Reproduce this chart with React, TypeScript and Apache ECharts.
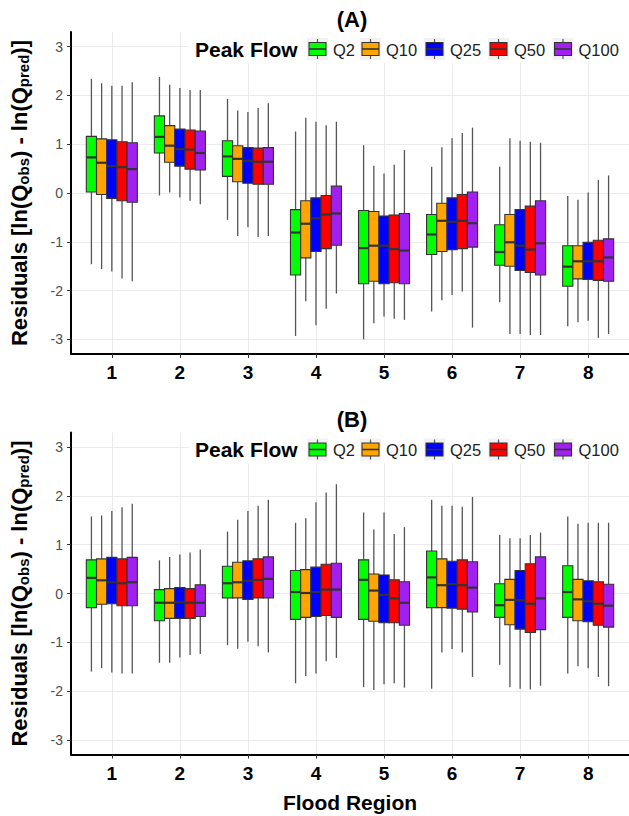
import React, { useEffect, useRef } from 'react';
import * as echarts from 'echarts';

// ---------- data ----------
const regions = [1, 2, 3, 4, 5, 6, 7, 8];
const peakFlows = ['Q2', 'Q10', 'Q25', 'Q50', 'Q100'];
const yTicks = [-3, -2, -1, 0, 1, 2, 3];

// Panel (A): per region [min, q1, median, q3, max]
const a_q2 = [
  [-1.46, 0.02, 0.73, 1.16, 2.34],
  [-0.05, 0.82, 1.15, 1.58, 2.38],
  [-0.55, 0.34, 0.75, 1.07, 1.93],
  [-2.93, -1.68, -0.81, -0.34, 1.26],
  [-3.0, -1.86, -1.13, -0.36, 0.98],
  [-2.43, -1.26, -0.85, -0.44, 0.54],
  [-2.24, -1.48, -1.21, -0.65, 0.54],
  [-2.73, -1.91, -1.51, -1.08, -0.06],
];
const a_q10 = [
  [-1.56, -0.03, 0.62, 1.11, 2.25],
  [0.01, 0.63, 0.97, 1.38, 2.22],
  [-0.88, 0.23, 0.7, 0.97, 1.69],
  [-2.22, -1.33, -0.63, -0.16, 1.54],
  [-2.67, -1.81, -1.08, -0.38, 0.56],
  [-2.2, -1.2, -0.57, -0.21, 0.94],
  [-2.89, -1.5, -1.01, -0.44, 1.12],
  [-2.65, -1.76, -1.4, -1.08, -0.14],
];
const a_q25 = [
  [-1.61, -0.11, 0.55, 1.09, 2.2],
  [-0.09, 0.55, 0.9, 1.31, 2.15],
  [-0.7, 0.2, 0.66, 0.93, 1.66],
  [-2.71, -1.2, -0.52, -0.1, 1.46],
  [-2.53, -1.86, -1.08, -0.47, 0.4],
  [-2.09, -1.16, -0.59, -0.1, 1.12],
  [-2.89, -1.59, -1.08, -0.34, 1.07],
  [-2.62, -1.77, -1.4, -1.01, 0.01],
];
const a_q50 = [
  [-1.75, -0.16, 0.53, 1.05, 2.2],
  [-0.16, 0.49, 0.89, 1.29, 2.11],
  [-0.9, 0.18, 0.64, 0.92, 1.74],
  [-2.37, -1.14, -0.44, -0.05, 1.39],
  [-2.58, -1.84, -1.15, -0.45, 0.58],
  [-2.02, -1.14, -0.57, -0.03, 1.23],
  [-2.91, -1.63, -1.16, -0.27, 1.05],
  [-2.97, -1.79, -1.4, -0.97, 0.27],
];
const a_q100 = [
  [-1.81, -0.19, 0.49, 1.03, 2.27],
  [-0.23, 0.47, 0.82, 1.27, 2.11],
  [-0.88, 0.18, 0.64, 0.93, 1.84],
  [-2.06, -1.07, -0.42, 0.14, 1.46],
  [-2.6, -1.86, -1.18, -0.42, 0.88],
  [-2.76, -1.11, -0.62, 0.02, 1.34],
  [-2.91, -1.68, -1.03, -0.16, 1.03],
  [-2.89, -1.81, -1.32, -0.94, 0.36],
];

// Panel (B)
const b_q2 = [
  [-1.6, -0.29, 0.32, 0.69, 1.58],
  [-1.42, -0.56, -0.19, 0.08, 0.68],
  [-1.06, -0.09, 0.21, 0.56, 1.27],
  [-1.84, -0.53, 0.03, 0.47, 1.45],
  [-1.92, -0.53, 0.28, 0.69, 1.66],
  [-1.95, -0.29, 0.33, 0.87, 1.92],
  [-1.46, -0.49, -0.24, 0.2, 1.2],
  [-1.64, -0.49, 0.03, 0.57, 1.58],
];
const b_q10 = [
  [-1.53, -0.22, 0.27, 0.71, 1.6],
  [-1.42, -0.51, -0.19, 0.1, 0.75],
  [-1.13, -0.09, 0.23, 0.64, 1.51],
  [-1.69, -0.49, 0.01, 0.49, 1.54],
  [-1.98, -0.57, 0.06, 0.4, 1.31],
  [-1.21, -0.29, 0.17, 0.71, 1.8],
  [-1.92, -0.64, -0.13, 0.29, 1.13],
  [-1.49, -0.56, -0.12, 0.29, 1.43],
];
const b_q25 = [
  [-1.62, -0.21, 0.23, 0.74, 1.69],
  [-1.31, -0.51, -0.18, 0.12, 0.8],
  [-0.99, -0.12, 0.26, 0.67, 1.69],
  [-1.64, -0.47, 0.03, 0.54, 1.87],
  [-1.86, -0.6, -0.03, 0.38, 1.66],
  [-1.14, -0.3, 0.19, 0.66, 1.8],
  [-1.95, -0.73, -0.14, 0.47, 1.13],
  [-1.53, -0.58, -0.16, 0.26, 1.45],
];
const b_q50 = [
  [-1.64, -0.25, 0.21, 0.71, 1.77],
  [-1.26, -0.51, -0.19, 0.1, 0.84],
  [-1.08, -0.09, 0.28, 0.71, 1.8],
  [-1.39, -0.45, 0.08, 0.6, 2.07],
  [-1.84, -0.6, -0.1, 0.28, 1.22],
  [-1.21, -0.32, 0.17, 0.69, 1.78],
  [-1.97, -0.8, -0.21, 0.61, 1.2],
  [-1.71, -0.65, -0.21, 0.24, 1.45],
];
const b_q100 = [
  [-1.64, -0.25, 0.23, 0.74, 1.84],
  [-1.24, -0.47, -0.19, 0.18, 0.9],
  [-1.21, -0.09, 0.3, 0.75, 1.92],
  [-1.32, -0.49, 0.08, 0.62, 2.24],
  [-1.93, -0.65, -0.19, 0.24, 1.36],
  [-1.71, -0.38, 0.12, 0.65, 1.98],
  [-1.89, -0.74, -0.1, 0.75, 1.25],
  [-1.9, -0.69, -0.25, 0.19, 1.45],
];

const panelA = [a_q2, a_q10, a_q25, a_q50, a_q100];
const panelB = [b_q2, b_q10, b_q25, b_q50, b_q100];
const panelTitles = ['(A)', '(B)'];

// ---------- styles ----------
const COLORS = ['#00FF00', '#FFA500', '#0000FF', '#FF0000', '#A020F0'];
const FONT = '"Liberation Sans", Arial, Helvetica, sans-serif';
const BOX_W = 0.15;
const OFFSETS = [-0.3, -0.15, 0, 0.15, 0.3];
const GRID_TOPS = [32, 432.5];
const GRID_LEFT = 70.5;
const GRID_W = 563;
const GRID_H = 322;
const LEGEND_KEY_X = [307, 360, 424, 488, 552.5];

function makeRender(offset: number, color: string) {
  return (params: any, api: any) => {
    const x = api.value(0);
    const cx = api.coord([x + offset, 0])[0];
    const w = api.size([BOX_W, 0])[0];
    const yMin = api.coord([x, api.value(1)])[1];
    const yQ1 = api.coord([x, api.value(2)])[1];
    const yMed = api.coord([x, api.value(3)])[1];
    const yQ3 = api.coord([x, api.value(4)])[1];
    const yMax = api.coord([x, api.value(5)])[1];
    const ws = { stroke: '#555', lineWidth: 1.3 };
    return {
      type: 'group',
      children: [
        { type: 'line', shape: { x1: cx, y1: yMax, x2: cx, y2: yQ3 }, style: ws },
        { type: 'line', shape: { x1: cx, y1: yQ1, x2: cx, y2: yMin }, style: ws },
        {
          type: 'rect',
          shape: { x: cx - w / 2, y: yQ3, width: w, height: yQ1 - yQ3 },
          style: { fill: color, stroke: '#333', lineWidth: 1.1 },
        },
        {
          type: 'line',
          shape: { x1: cx - w / 2, y1: yMed, x2: cx + w / 2, y2: yMed },
          style: { stroke: '#333', lineWidth: 2.2 },
        },
      ],
    };
  };
}

function legendElements(top: number) {
  const els: any[] = [];
  els.push({
    type: 'rect',
    z: 50,
    shape: { x: 189, y: top, width: 460, height: 31 },
    style: { fill: '#fff' },
  });
  els.push({
    type: 'text',
    z: 60,
    x: 195,
    y: top + 17,
    style: {
      text: 'Peak Flow',
      fill: '#000',
      font: `bold 21px ${FONT}`,
      textAlign: 'left',
      textVerticalAlign: 'middle',
    },
  });
  peakFlows.forEach((name, i) => {
    const kx = LEGEND_KEY_X[i];
    const ky = top + 6;
    els.push({ type: 'rect', z: 60, shape: { x: kx, y: ky, width: 21, height: 22 }, style: { fill: '#f2f2f2' } });
    els.push({ type: 'line', z: 61, shape: { x1: kx + 10.5, y1: ky + 1, x2: kx + 10.5, y2: ky + 21 }, style: { stroke: '#555', lineWidth: 1.2 } });
    els.push({
      type: 'rect',
      z: 62,
      shape: { x: kx + 2, y: ky + 4.5, width: 17, height: 13 },
      style: { fill: COLORS[i], stroke: '#333', lineWidth: 1.1 },
    });
    els.push({ type: 'line', z: 63, shape: { x1: kx + 2, y1: ky + 11, x2: kx + 19, y2: ky + 11 }, style: { stroke: '#333', lineWidth: 1.6 } });
    els.push({
      type: 'text',
      z: 60,
      x: kx + 26,
      y: ky + 11.5,
      style: {
        text: name,
        fill: '#222',
        font: `16.5px ${FONT}`,
        textAlign: 'left',
        textVerticalAlign: 'middle',
      },
    });
  });
  return els;
}

export default function App() {
  const ref = useRef<HTMLDivElement>(null);
  useEffect(() => {
    if (!ref.current) return;
    const chart = echarts.init(ref.current, undefined, { renderer: 'svg' });
    const panels = [panelA, panelB];

    const series: any[] = [];
    panels.forEach((panel, p) => {
      panel.forEach((arr, i) => {
        series.push({
          type: 'custom',
          name: peakFlows[i],
          xAxisIndex: p,
          yAxisIndex: p,
          encode: { x: 0, y: [1, 2, 3, 4, 5] },
          renderItem: makeRender(OFFSETS[i], COLORS[i]),
          data: arr.map((v, k) => [regions[k], ...v]),
          z: 10,
        });
      });
    });

    const graphicEls: any[] = [];
    GRID_TOPS.forEach((t, p) => {
      graphicEls.push({
        type: 'text',
        z: 60,
        x: GRID_LEFT + GRID_W / 2,
        y: t - 13,
        style: {
          text: panelTitles[p],
          fill: '#000',
          font: `bold 22px ${FONT}`,
          textAlign: 'center',
          textVerticalAlign: 'middle',
        },
      });
      graphicEls.push(...legendElements(t));
    });

    const option: any = {
      animation: false,
      backgroundColor: '#fff',
      grid: GRID_TOPS.map((t) => ({ left: GRID_LEFT, top: t, width: GRID_W, height: GRID_H })),
      xAxis: [0, 1].map((p) => ({
        type: 'value',
        gridIndex: p,
        min: 0.4,
        max: 8.6,
        axisLine: { show: true, onZero: false, lineStyle: { color: '#000', width: 2 } },
        axisTick: { show: true, length: 4, lineStyle: { color: '#333' }, customValues: regions },
        axisLabel: {
          customValues: regions,
          margin: 9,
          fontSize: 19,
          fontWeight: 'bold',
          color: '#000',
          fontFamily: FONT,
        },
        splitLine: { show: true, lineStyle: { color: '#ebebeb', width: 1 } },
        name: p === 1 ? 'Flood Region' : '',
        nameLocation: 'middle',
        nameGap: 37,
        nameTextStyle: { fontSize: 21, fontWeight: 'bold', color: '#000', fontFamily: FONT },
      })),
      yAxis: [0, 1].map((p) => ({
        type: 'value',
        gridIndex: p,
        min: -3.3,
        max: 3.3,
        axisLine: { show: true, onZero: false, lineStyle: { color: '#000', width: 2 } },
        axisTick: { show: true, length: 4, lineStyle: { color: '#333' }, customValues: yTicks },
        axisLabel: { customValues: yTicks, margin: 8, fontSize: 14, color: '#4d4d4d', fontFamily: FONT },
        splitLine: { show: true, lineStyle: { color: '#ebebeb', width: 1 } },
        name: '{a|Residuals [ln(Q}{s|obs}{a|) - ln(Q}{s|pred}{a|)]}',
        nameLocation: 'middle',
        nameRotate: 90,
        nameGap: 40,
        nameTextStyle: {
          rich: {
            a: { fontSize: 22, fontWeight: 'bold', color: '#000', fontFamily: FONT, lineHeight: 24 },
            s: {
              fontSize: 15,
              fontWeight: 'bold',
              color: '#000',
              fontFamily: FONT,
              lineHeight: 15,
              verticalAlign: 'bottom',
            },
          },
        },
      })),
      graphic: { elements: graphicEls },
      series,
    };
    chart.setOption(option);
    return () => chart.dispose();
  }, []);
  return (
    <div
      ref={ref}
      style={{ position: 'absolute', left: 0, top: 0, width: 629, height: 816, overflow: 'hidden' }}
    />
  );
}
